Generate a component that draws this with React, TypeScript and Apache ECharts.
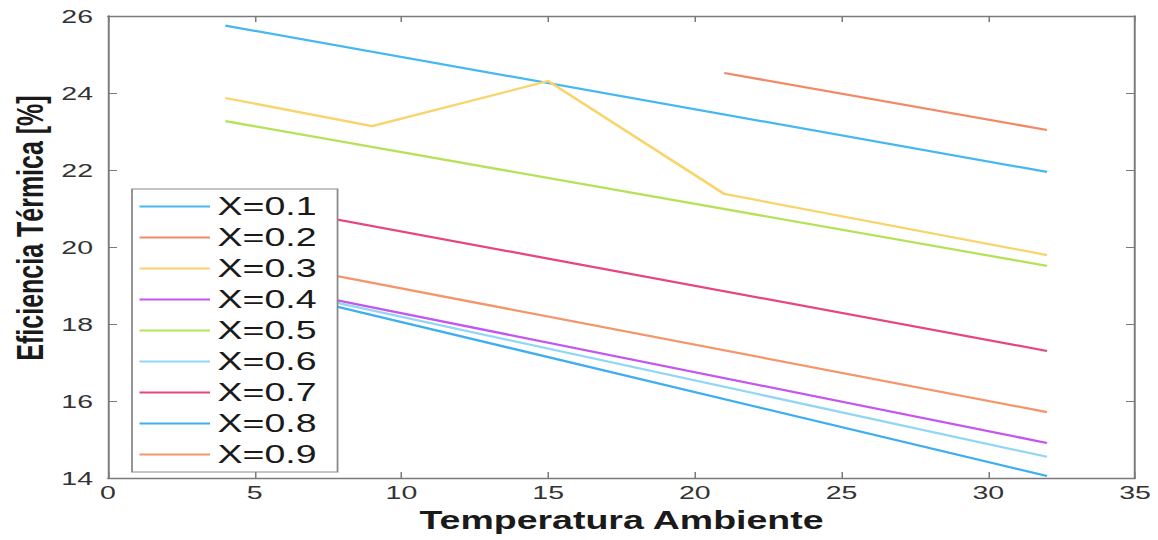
import React, { useEffect, useRef } from "react";
import * as echarts from "echarts";

// Horizontal stretch of the whole figure (wide MATLAB-style export)
const STRETCH_X = 1.5;
const FULL_W = 1158;
const FULL_H = 540;

// Ambient temperature samples per curve
const tempFull = [4, 32];
const tempX02 = [21, 32];
const tempX03 = [4, 9, 15, 21, 32];

// Thermal efficiency [%] per quality X
const effX01 = [25.75, 21.95];
const effX02 = [24.52, 23.04];
const effX03 = [23.87, 23.14, 24.31, 21.38, 19.79];
const effX04 = [19.2, 14.91];
const effX05 = [23.27, 19.51];
const effX06 = [19.18, 14.55];
const effX07 = [21.25, 17.3];
const effX08 = [19.14, 14.05];
const effX09 = [19.8, 15.71];

const seriesNames = ["X=0.1", "X=0.2", "X=0.3", "X=0.4", "X=0.5", "X=0.6", "X=0.7", "X=0.8", "X=0.9"];
const seriesTemps = [tempFull, tempX02, tempX03, tempFull, tempFull, tempFull, tempFull, tempFull, tempFull];
const seriesEffs = [effX01, effX02, effX03, effX04, effX05, effX06, effX07, effX08, effX09];
const seriesColors = ["#45B8F0", "#F28A68", "#F8D46A", "#C455F0", "#B6E25A", "#92D6F6", "#E8457A", "#3EAEF0", "#F4956A"];

const xTicks = { min: 0, max: 35, interval: 5 };
const yTicks = { min: 14, max: 26, interval: 2 };

const FONT = "'Liberation Sans', Arial, sans-serif";
const AXIS_GRAY = "#7a7a7a";

export default function App() {
  const ref = useRef<HTMLDivElement>(null);

  useEffect(() => {
    if (!ref.current) return;
    const chart = echarts.init(ref.current, undefined, { renderer: "svg" });

    const series = seriesNames.map((name, i) => ({
      name,
      type: "line" as const,
      symbol: "none",
      data: seriesTemps[i].map((t, k) => [t, seriesEffs[i][k]]),
      lineStyle: { color: seriesColors[i], width: 2.2 },
      itemStyle: { color: seriesColors[i] },
      z: 2,
    }));

    const tickCommon = {
      axisLine: { show: true, onZero: false, lineStyle: { color: AXIS_GRAY, width: 1.3 } },
      axisTick: { show: true, inside: true, length: 6, lineStyle: { color: AXIS_GRAY, width: 1 } },
      splitLine: { show: false },
    };

    chart.setOption({
      animation: false,
      backgroundColor: "#ffffff",
      textStyle: { fontFamily: FONT },
      grid: { left: 72, right: 15.33, top: 16, bottom: 62, containLabel: false },
      legend: {
        orient: "vertical",
        left: 88,
        top: 189,
        data: seriesNames,
        icon: "rect",
        itemWidth: 47,
        itemHeight: 2.2,
        itemGap: 6,
        padding: [5, 14, 5, 5],
        borderColor: "#8a8a8a",
        borderWidth: 1.2,
        backgroundColor: "#ffffff",
        textStyle: { fontSize: 25, color: "#1a1a1a", fontFamily: FONT },
        z: 10,
      },
      xAxis: [
        {
          type: "value",
          position: "bottom",
          ...xTicks,
          ...tickCommon,
          axisLabel: { color: "#333", fontSize: 19, margin: 5, fontFamily: FONT },
          name: "Temperatura Ambiente",
          nameLocation: "middle",
          nameGap: 30,
          nameTextStyle: { fontSize: 25, fontWeight: "bold", color: "#1a1a1a", fontFamily: FONT },
        },
        {
          type: "value",
          position: "top",
          ...xTicks,
          ...tickCommon,
          axisLabel: { show: false },
        },
      ],
      yAxis: [
        {
          type: "value",
          position: "left",
          ...yTicks,
          ...tickCommon,
          axisLabel: { color: "#333", fontSize: 19, margin: 10, fontFamily: FONT },
        },
        {
          type: "value",
          position: "right",
          ...yTicks,
          ...tickCommon,
          axisLabel: { show: false },
        },
      ],
      graphic: [
        {
          type: "text",
          x: 20,
          y: 228,
          rotation: Math.PI / 2,
          style: {
            text: "Eficiencia Térmica [%]",
            fontSize: 25,
            fontWeight: "bold",
            fontFamily: FONT,
            fill: "#1a1a1a",
            align: "center",
            verticalAlign: "middle",
          },
        },
      ],
      series,
    });

    return () => chart.dispose();
  }, []);

  return (
    <div
      ref={ref}
      style={{
        position: "fixed",
        left: 0,
        top: 0,
        width: FULL_W / STRETCH_X,
        height: FULL_H,
        transform: `scaleX(${STRETCH_X})`,
        transformOrigin: "0 0",
      }}
    />
  );
}
